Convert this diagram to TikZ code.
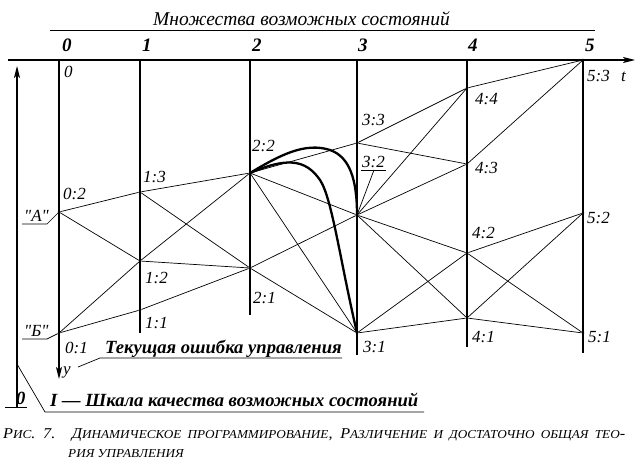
\documentclass[tikz,border=0pt]{standalone}
\usepackage{fontspec}
\setmainfont{Liberation Serif}
\newfontfamily\qfont{Liberation Serif}[Ligatures=TeXOff]
\newfontfamily\capfont{Liberation Serif}[FakeStretch=1.08]
\usetikzlibrary{arrows.meta}
\newcommand{\smcap}[1]{{\fontsize{12.2}{12.2}\selectfont #1}}
\tikzset{
  lbl/.style={font=\fontsize{17}{17}\selectfont\itshape, inner sep=0pt, anchor=base west},
  qlbl/.style={font=\fontsize{17}{17}\selectfont\qfont\itshape, inner sep=0pt, anchor=base west},
  hdr/.style={font=\fontsize{19}{19}\selectfont\bfseries\itshape, inner sep=0pt, anchor=base west},
  ttl/.style={font=\fontsize{19.5}{19.5}\selectfont\itshape, inner sep=0pt, anchor=base west},
  blbl/.style={font=\fontsize{18.6}{18.6}\selectfont\bfseries\itshape, inner sep=0pt, anchor=base west},
  captxt/.style={font=\fontsize{15}{15}\selectfont\capfont\itshape, inner sep=0pt, anchor=base west},
  thinln/.style={line width=0.7pt},
  col/.style={line width=1.1pt},
  axisln/.style={line width=1.1pt},
  pathb/.style={line width=2.3pt, line cap=round, line join=round},
  dot/.style={circle, fill, inner sep=0pt, minimum size=2.6pt},
  arr/.style={-{Stealth[length=12pt,width=6pt,inset=3pt]}},
}
\begin{document}
\begin{tikzpicture}[x=1pt,y=-1pt]
\useasboundingbox (0,0) rectangle (639,468);
% state nodes
\node[dot] (n02) at (59,212) {};
\node[dot] (n01) at (59,333) {};
\node[dot] (n13) at (140,192) {};
\node[dot] (n12) at (140,261) {};
\node[dot] (n11) at (140,310) {};
\node[dot] (n22) at (250,173) {};
\node[dot] (n21) at (250,268) {};
\node[dot] (n33) at (357,143) {};
\node[dot] (n32) at (357,215) {};
\node[dot] (n31) at (357,333) {};
\node[dot] (n44) at (467,88) {};
\node[dot] (n43) at (467,164) {};
\node[dot] (n42) at (467,253) {};
\node[dot] (n41) at (467,318) {};
\node[dot] (n53) at (583,60) {};
\node[dot] (n52) at (583,213) {};
\node[dot] (n51) at (583,333) {};
% axes and columns
\coordinate (tl) at (8,60);
\coordinate (tr) at (635,60);
\coordinate (c0t) at (59,60);
\coordinate (c0b) at (59,379);
\coordinate (c1t) at (140,60);
\coordinate (c1b) at (140,333);
\coordinate (c2t) at (250,60);
\coordinate (c2b) at (250,315);
\coordinate (c3t) at (357,60);
\coordinate (c3b) at (357,355);
\coordinate (c4t) at (467,60);
\coordinate (c4b) at (467,347);
\coordinate (c5b) at (583,353);
\coordinate (qb) at (17,407);
\coordinate (qt) at (17,66);
\coordinate (tk1) at (5,407);
\coordinate (tk2) at (27,407);
\draw[axisln,arr] (tl) -- (tr);
\draw[axisln,arr] (qb) -- (qt);
\draw[thinln] (tk1) -- (tk2);
\draw[col,arr] (c0t) -- (c0b);
\draw[col] (c1t) -- (c1b);
\draw[col] (c2t) -- (c2b);
\draw[col] (c3t) -- (c3b);
\draw[col] (c4t) -- (c4b);
\draw[col] (n53) -- (c5b);
% title
\coordinate (u1) at (50,30);
\coordinate (u2) at (595,30);
\draw[thinln] (u1) -- (u2);
\node[ttl] (title) at (153,26) {Множества возможных состояний};
% column headers
\node[hdr] (h0) at (62,52) {0};
\node[hdr] (h1) at (142,52) {1};
\node[hdr] (h2) at (252,52) {2};
\node[hdr] (h3) at (358,52) {3};
\node[hdr] (h4) at (468,52) {4};
\node[hdr] (h5) at (585,52) {5};
% edges
\draw[thinln] (n02) -- (n13);
\draw[thinln] (n02) -- (n12);
\draw[thinln] (n01) -- (n12);
\draw[thinln] (n01) -- (n11);
\draw[thinln] (n13) -- (n22);
\draw[thinln] (n13) -- (n21);
\draw[thinln] (n12) -- (n22);
\draw[thinln] (n12) -- (n21);
\draw[thinln] (n11) -- (n21);
\draw[thinln] (n22) -- (n33);
\draw[thinln] (n22) -- (n32);
\draw[thinln] (n22) -- (n31);
\draw[thinln] (n21) -- (n32);
\draw[thinln] (n21) -- (n31);
\draw[thinln] (n33) -- (n44);
\draw[thinln] (n33) -- (n43);
\draw[thinln] (n32) -- (n44);
\draw[thinln] (n32) -- (n43);
\draw[thinln] (n32) -- (n42);
\draw[thinln] (n32) -- (n41);
\draw[thinln] (n31) -- (n42);
\draw[thinln] (n31) -- (n41);
\draw[thinln] (n44) -- (n53);
\draw[thinln] (n43) -- (n53);
\draw[thinln] (n42) -- (n52);
\draw[thinln] (n42) -- (n51);
\draw[thinln] (n41) -- (n52);
\draw[thinln] (n41) -- (n51);
% thick paths
\draw[pathb] (n22.center) .. controls (280,155) and (305,142) .. (330,150)
   .. controls (350,157) and (357,180) .. (n32.center);
\draw[pathb] (n22.center) .. controls (285,158) and (305,158) .. (320,180)
   .. controls (332,198) and (340,260) .. (n31.center);
% state labels
\node[lbl] (l0) at (64,78) {0};
\node[lbl] (l02) at (63,199) {0:2};
\node[lbl] (l01) at (65,353) {0:1};
\node[lbl] (l13) at (143,182) {1:3};
\node[lbl] (l12) at (145,283) {1:2};
\node[lbl] (l11) at (145,328) {1:1};
\node[lbl] (l22) at (252,151) {2:2};
\node[lbl] (l21) at (253,303) {2:1};
\node[lbl] (l33) at (362,125) {3:3};
\node[lbl] (l32) at (362,167) {3:2};
\node[lbl] (l31) at (363,352) {3:1};
\node[lbl] (l44) at (475,105) {4:4};
\node[lbl] (l43) at (475,173) {4:3};
\node[lbl] (l42) at (472,238) {4:2};
\node[lbl] (l41) at (472,342) {4:1};
\node[lbl] (l53) at (587,82) {5:3};
\node[lbl] (l52) at (587,223) {5:2};
\node[lbl] (l51) at (588,342) {5:1};
\node[lbl] (lt) at (621,82) {t};
\node[lbl] (ly) at (63,374) {y};
% 3:2 leader
\coordinate (s1) at (361,170);
\coordinate (s2) at (386,170);
\coordinate (s3) at (374,170);
\draw[thinln] (s1) -- (s2);
\draw[thinln] (s3) -- (n32);
% A and B labels
\node[qlbl] (la) at (24,221) {"А"};
\node[qlbl] (lb) at (24,336) {"Б"};
\coordinate (a1) at (22,224);
\coordinate (a2) at (47,224);
\draw[thinln] (a1) -- (a2) -- (n02);
\coordinate (b1) at (22,339);
\coordinate (b2) at (47,339);
\draw[thinln] (b1) -- (b2) -- (n01);
% error label
\node[blbl] (err) at (105,353) {Текущая ошибка управления};
\coordinate (e1) at (100,358);
\coordinate (e2) at (342,358);
\coordinate (e3) at (78,367);
\draw[thinln] (e2) -- (e1) -- (e3);
% scale label
\node[blbl] (zero) at (16,404) {0};
\node[blbl] (scl) at (50,406) {I — Шкала качества возможных состояний};
\coordinate (k1) at (45,412);
\coordinate (k2) at (424,412);
\coordinate (k3) at (17,364);
\draw[thinln] (k2) -- (k1) -- (k3);
% caption
\node[captxt] (cap1) at (3,438) {\makebox[622pt][s]{Р\smcap{ИС}. 7. Д\smcap{ИНАМИЧЕСКОЕ ПРОГРАММИРОВАНИЕ}, Р\smcap{АЗЛИЧЕНИЕ И ДОСТАТОЧНО ОБЩАЯ ТЕО}-}};
\node[captxt] (cap2) at (68,457) {\smcap{РИЯ УПРАВЛЕНИЯ}};
\end{tikzpicture}
\end{document}
